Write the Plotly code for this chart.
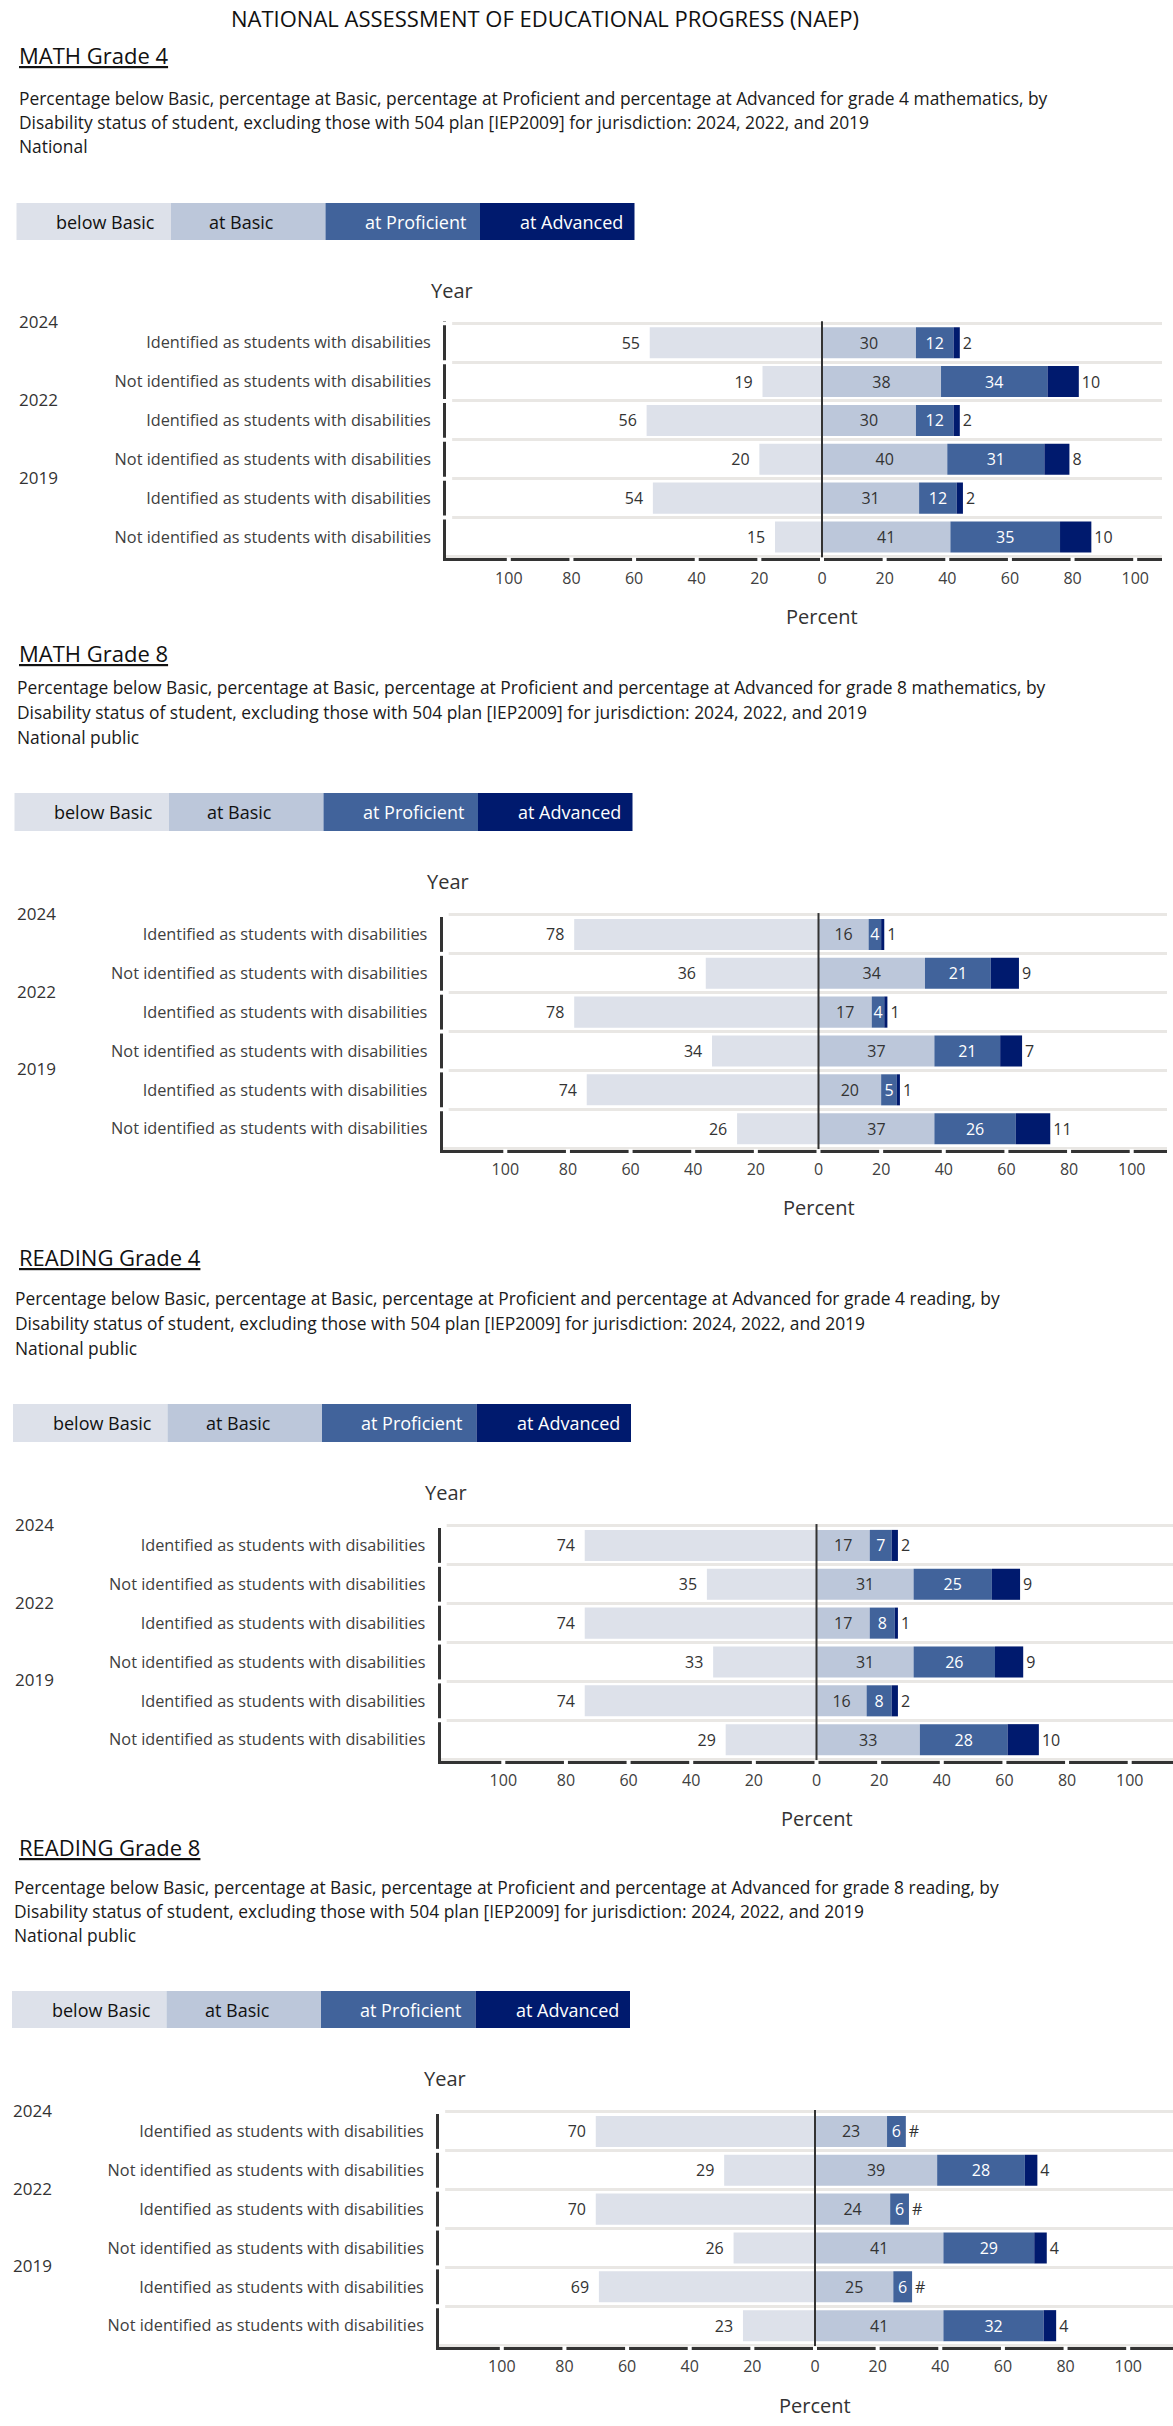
import plotly.graph_objects as go

W, H = 1173, 2426

# ---------------- data ----------------
main_title = "NATIONAL ASSESSMENT OF EDUCATIONAL PROGRESS (NAEP)"
section_titles = ["MATH Grade 4", "MATH Grade 8", "READING Grade 4", "READING Grade 8"]
subject_phrases = ["grade 4 mathematics", "grade 8 mathematics", "grade 4 reading", "grade 8 reading"]
jurisdictions = ["National", "National public", "National public", "National public"]
years = ["2024", "2022", "2019"]
groups = ["Identified as students with disabilities", "Not identified as students with disabilities"]
levels = ["below Basic", "at Basic", "at Proficient", "at Advanced"]
x_tickvals = [-100, -80, -60, -40, -20, 0, 20, 40, 60, 80, 100]
x_ticktext = ["100", "80", "60", "40", "20", "0", "20", "40", "60", "80", "100"]

# row order: 2024 identified, 2024 not, 2022 identified, 2022 not, 2019 identified, 2019 not
math4_below = [55, 19, 56, 20, 54, 15]
math4_basic = [30, 38, 30, 40, 31, 41]
math4_prof = [12, 34, 12, 31, 12, 35]
math4_adv = [2, 10, 2, 8, 2, 10]

math8_below = [78, 36, 78, 34, 74, 26]
math8_basic = [16, 34, 17, 37, 20, 37]
math8_prof = [4, 21, 4, 21, 5, 26]
math8_adv = [1, 9, 1, 7, 1, 11]

reading4_below = [74, 35, 74, 33, 74, 29]
reading4_basic = [17, 31, 17, 31, 16, 33]
reading4_prof = [7, 25, 8, 26, 8, 28]
reading4_adv = [2, 9, 1, 9, 2, 10]

reading8_below = [70, 29, 70, 26, 69, 23]
reading8_basic = [23, 39, 24, 41, 25, 41]
reading8_prof = [6, 28, 6, 29, 6, 32]
reading8_adv = [0, 4, 0, 4, 0, 4]  # 0 = rounds to zero, shown as "#"

section_data = [
    (math4_below, math4_basic, math4_prof, math4_adv),
    (math8_below, math8_basic, math8_prof, math8_adv),
    (reading4_below, reading4_basic, reading4_prof, reading4_adv),
    (reading8_below, reading8_basic, reading8_prof, reading8_adv),
]

# ---------------- styles / geometry ----------------
FONT = "Open Sans, Arial, sans-serif"
level_colors = ["#dde1ea", "#bcc7da", "#41639b", "#001a6e"]
level_text_colors = ["#111111", "#111111", "#ffffff", "#ffffff"]
legend_text_offsets = [89, 70.5, 89.5, 91.5]
LEG_W = 154.5
RH = 38.85   # row height in px
S = 3.132    # px per percent
AX = "#333333"
GRID = "#e9e7e4"

geo = [
    dict(title_y=54.5, subs_y=(98, 122, 146), sub_x=16.5, legend_x=16.5, legend_y=(203, 240),
         year_title_y=290, year_x=17, grid_top=323.3, zero=822, right=1162, percent_y=616),
    dict(title_y=653.5, subs_y=(687, 712, 737), sub_x=15.3, legend_x=14.5, legend_y=(793, 831),
         year_title_y=881.5, year_x=15.3, grid_top=915, zero=818.5, right=1167, percent_y=1207),
    dict(title_y=1257.5, subs_y=(1298, 1323, 1348), sub_x=13.4, legend_x=13, legend_y=(1404, 1442),
         year_title_y=1492, year_x=13.4, grid_top=1526, zero=816.5, right=1173, percent_y=1818),
    dict(title_y=1846.5, subs_y=(1887, 1911, 1935), sub_x=12, legend_x=12, legend_y=(1991, 2028),
         year_title_y=2078, year_x=11, grid_top=2112, zero=815, right=1173, percent_y=2405),
]


def px_y(p):
    return 1 - p / H


def px_x(p):
    return p / W


rows = [f"{y}|{g}" for y in years for g in groups]
row_text = [g for y in years for g in groups]

fig = go.Figure()
annotations = []
shapes = []
layout_axes = {}

annotations.append(dict(text=main_title, x=px_x(545), y=px_y(18), xref="paper", yref="paper",
                        xanchor="center", yanchor="middle", showarrow=False,
                        font=dict(size=22, color="#111111", family=FONT)))

for si, (below, basic, prof, adv) in enumerate(section_data):
    g = geo[si]
    n = "" if si == 0 else str(si + 1)
    xa, ya = "x" + n, "y" + n
    # traces
    fig.add_trace(go.Bar(
        y=rows, x=[-v for v in below], orientation="h", xaxis=xa, yaxis=ya,
        marker=dict(color=level_colors[0], line=dict(width=0)),
        text=[f"{v}\u00a0\u2009" for v in below], textposition="outside",
        outsidetextfont=dict(size=16, color="#333333", family=FONT),
        textangle=0, constraintext="none", cliponaxis=False, hoverinfo="skip", name=levels[0]))
    fig.add_trace(go.Bar(
        y=rows, x=basic, orientation="h", xaxis=xa, yaxis=ya,
        marker=dict(color=level_colors[1], line=dict(width=0)),
        text=[str(v) for v in basic], textposition="inside", insidetextanchor="middle",
        insidetextfont=dict(size=16, color="#333333", family=FONT),
        textangle=0, constraintext="none", cliponaxis=False, hoverinfo="skip", name=levels[1]))
    fig.add_trace(go.Bar(
        y=rows, x=prof, orientation="h", xaxis=xa, yaxis=ya,
        marker=dict(color=level_colors[2], line=dict(width=0)),
        text=[str(v) for v in prof], textposition="inside", insidetextanchor="middle",
        insidetextfont=dict(size=16, color="#ffffff", family=FONT),
        textangle=0, constraintext="none", cliponaxis=False, hoverinfo="skip", name=levels[2]))
    fig.add_trace(go.Bar(
        y=rows, x=adv, orientation="h", xaxis=xa, yaxis=ya,
        marker=dict(color=level_colors[3], line=dict(width=0)),
        text=["#" if v == 0 else str(v) for v in adv], textposition="outside",
        outsidetextfont=dict(size=16, color="#333333", family=FONT),
        textangle=0, constraintext="none", cliponaxis=False, hoverinfo="skip", name=levels[3]))

    # axes geometry
    left_px = g["zero"] - 120 * S
    xmax = (g["right"] - g["zero"]) / S
    top_px = g["grid_top"] - 0.05 * RH
    bot_px = top_px + 6.1 * RH
    layout_axes["xaxis" + n] = dict(
        domain=[px_x(left_px), px_x(g["right"])], anchor=ya, range=[-120, xmax],
        showgrid=False, zeroline=False, showline=True, linewidth=3, linecolor=AX,
        ticks="", tickmode="array", tickvals=x_tickvals, ticktext=x_ticktext,
        ticklabelstandoff=3,
        tickfont=dict(size=16, color="#404040", family=FONT), fixedrange=True)
    layout_axes["yaxis" + n] = dict(
        domain=[px_y(bot_px), px_y(top_px)], anchor=xa, type="category",
        categoryorder="array", categoryarray=rows, range=[5.55, -0.55],
        tickson="boundaries", ticks="", showgrid=True, gridcolor=GRID, gridwidth=3,
        showline=True, linewidth=3, linecolor=AX, zeroline=False,
        tickmode="array", tickvals=rows, ticktext=row_text, ticklabelstandoff=9,
        tickfont=dict(size=16.3, color="#404040", family=FONT), fixedrange=True)

    # zero line
    shapes.append(dict(type="line", xref=xa, yref=ya + " domain", x0=0, x1=0, y0=0, y1=1,
                       line=dict(color=AX, width=2), layer="above"))
    # gaps in x axis line at ticks
    for t in x_tickvals:
        shapes.append(dict(type="line", xref=xa, yref=ya + " domain", x0=t, x1=t,
                           ysizemode="pixel", yanchor=0, y0=-5, y1=1,
                           line=dict(color="white", width=4), layer="above"))
    # gaps in y axis line at category boundaries
    for k in range(len(rows)):
        b = k - 0.5
        shapes.append(dict(type="line", yref=ya, xref=xa + " domain", y0=b, y1=b,
                           xsizemode="pixel", xanchor=0, x0=-5, x1=6,
                           line=dict(color="white", width=4), layer="above"))

    # section title & subtitle
    annotations.append(dict(text=f"<u>{section_titles[si]}</u>", x=px_x(16.5), y=px_y(g["title_y"]),
                            xref="paper", yref="paper", xanchor="left", yanchor="middle",
                            showarrow=False, font=dict(size=22, color="#111111", family=FONT)))
    sub_lines = [
        f"Percentage below Basic, percentage at Basic, percentage at Proficient and percentage at Advanced for {subject_phrases[si]}, by",
        "Disability status of student, excluding those with 504 plan [IEP2009] for jurisdiction: 2024, 2022, and 2019",
        jurisdictions[si],
    ]
    for line, yy in zip(sub_lines, g["subs_y"]):
        annotations.append(dict(text=line, x=px_x(g["sub_x"]), y=px_y(yy), xref="paper", yref="paper",
                                xanchor="left", yanchor="middle", showarrow=False,
                                font=dict(size=17.4, color="#1a1a1a", family=FONT)))
    # legend boxes
    y0p, y1p = g["legend_y"]
    for li, lev in enumerate(levels):
        bx = g["legend_x"] + li * LEG_W
        shapes.append(dict(type="rect", xref="paper", yref="paper",
                           x0=px_x(bx), x1=px_x(bx + LEG_W), y0=px_y(y1p), y1=px_y(y0p),
                           fillcolor=level_colors[li], line=dict(width=0), layer="below"))
        annotations.append(dict(text=lev, x=px_x(bx + legend_text_offsets[li]), y=px_y((y0p + y1p) / 2),
                                xref="paper", yref="paper", xanchor="center", yanchor="middle",
                                showarrow=False, font=dict(size=18, color=level_text_colors[li], family=FONT)))
    # Year title
    annotations.append(dict(text="Year", x=px_x(left_px + 5.5), y=px_y(g["year_title_y"]),
                            xref="paper", yref="paper", xanchor="center", yanchor="middle",
                            showarrow=False, font=dict(size=20, color="#333333", family=FONT)))
    # year group labels (at top of each group)
    for yi, yr in enumerate(years):
        annotations.append(dict(text=yr, x=px_x(g["year_x"]), y=2 * yi - 0.5, xref="paper", yref=ya,
                                xanchor="left", yanchor="middle", yshift=1.5, showarrow=False,
                                font=dict(size=17, color="#333333", family=FONT)))
    # Percent title centered on zero
    annotations.append(dict(text="Percent", x=0, y=px_y(g["percent_y"]), xref=xa, yref="paper",
                            xanchor="center", yanchor="middle", showarrow=False,
                            font=dict(size=20, color="#333333", family=FONT)))

fig.update_layout(
    width=W, height=H, autosize=False,
    margin=dict(l=0, r=0, t=0, b=0, pad=0),
    paper_bgcolor="white", plot_bgcolor="white",
    barmode="relative", bargap=0.2, showlegend=False,
    font=dict(family=FONT, color="#333333"),
    annotations=annotations, shapes=shapes,
    **layout_axes,
)

fig.write_html("out.html", config={"displayModeBar": False},
               post_script="document.body.style.margin='0px';")
